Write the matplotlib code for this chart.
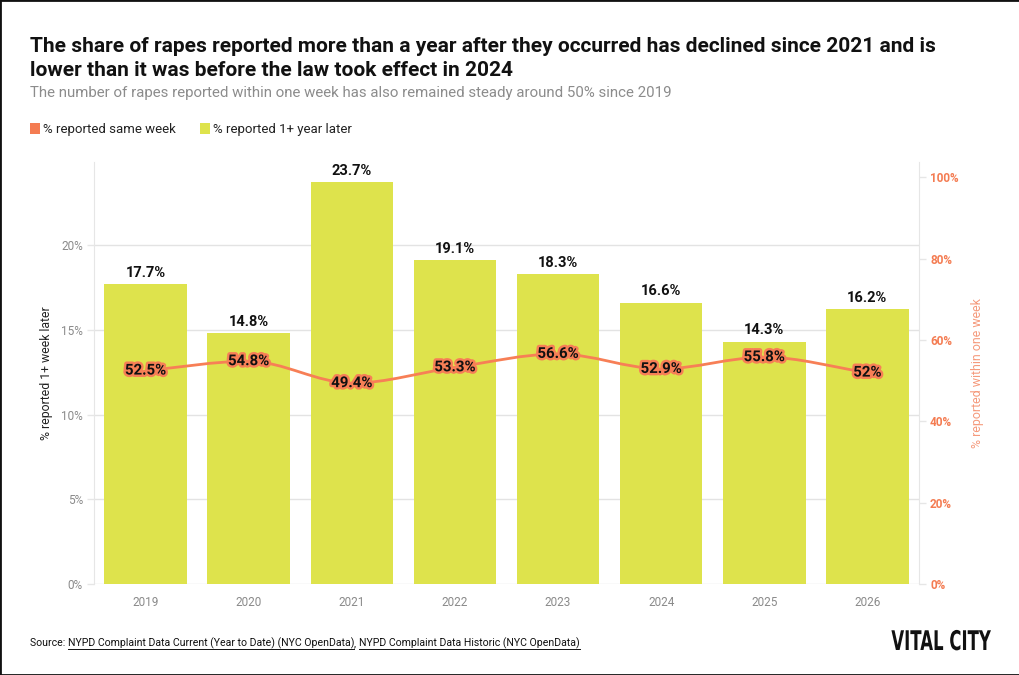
import numpy as np
import matplotlib
matplotlib.use("Agg")
import matplotlib.pyplot as plt
import matplotlib.patheffects as pe
from matplotlib.path import Path
from matplotlib.patches import PathPatch, Rectangle
from matplotlib.transforms import Affine2D
from matplotlib.ticker import FuncFormatter

plt.rcParams['font.family'] = ['Roboto', 'DejaVu Sans']

years = ['2019', '2020', '2021', '2022', '2023', '2024', '2025', '2026']
pct_year_later = [17.7, 14.8, 23.7, 19.1, 18.3, 16.6, 14.3, 16.2]
pct_same_week = [52.5, 54.8, 49.4, 53.3, 56.6, 52.9, 55.8, 52.0]
same_week_labels = ['52.5%', '54.8%', '49.4%', '53.3%', '56.6%', '52.9%', '55.8%', '52%']

bar_col = '#dee34c'
line_col = '#f77f56'
orange_txt = '#f47c52'
grey = '#8a8a8a'

W, H = 1020, 675
fig = plt.figure(figsize=(W / 100, H / 100), dpi=100)

def fx(x):
    return x / W

def fy(y):
    return 1 - y / H


class Squeeze(pe.AbstractPathEffect):
    # narrows text horizontally around a fixed pixel x (for the logo)
    def __init__(self, sx, x0):
        super().__init__()
        self.sx = sx
        self.x0 = x0

    def draw_path(self, renderer, gc, tpath, affine, rgbFace=None):
        t = affine + Affine2D().translate(-self.x0, 0).scale(self.sx, 1).translate(self.x0, 0)
        renderer.draw_path(gc, tpath, t, rgbFace)


ax = fig.add_axes([fx(94), fy(584), fx(919) - fx(94), fy(162) - fy(584)])
ax2 = ax.twinx()

x = np.arange(len(years))
ax.bar(x, pct_year_later, width=0.8, color=bar_col, zorder=2)
ax.set_xlim(-0.5, len(years) - 0.5)
ax.set_ylim(0, 24.9)
ax.set_yticks([0, 5, 10, 15, 20])
ax.yaxis.set_major_formatter(FuncFormatter(lambda v, p: f'{v:.0f}%'))
ax.set_xticks(x)
ax.set_xticklabels(years)
ax.grid(axis='y', color='#e3e3e3', linewidth=1, zorder=0)
ax.set_axisbelow(True)
for s in ['top', 'right', 'bottom']:
    ax.spines[s].set_visible(False)
ax.spines['left'].set_color('#e6e6e6')
ax.tick_params(axis='y', colors=grey, labelsize=8.5, length=5, width=1, pad=3)
ax.tick_params(axis='y', color='#e6e6e6')
ax.tick_params(axis='x', colors=grey, labelsize=8.5, length=0, pad=9)
ax.set_ylabel('% reported 1+ week later', fontsize=8.8, color='#222222', labelpad=6)

for xi, v in zip(x, pct_year_later):
    ax.annotate(f'{v}%', (xi, v), xytext=(0, 3), textcoords='offset points',
                ha='center', va='bottom', fontsize=10.5, fontweight='bold', color='#111111')

# right axis
ax2.set_ylim(0, 103.8)
ax2.set_yticks([0, 20, 40, 60, 80, 100])
ax2.yaxis.set_major_formatter(FuncFormatter(lambda v, p: f'{v:.0f}%'))
for s in ['top', 'left', 'bottom']:
    ax2.spines[s].set_visible(False)
ax2.spines['right'].set_color('#e6e6e6')
ax2.tick_params(axis='y', colors=orange_txt, labelsize=8.5, length=5, width=1, pad=3)
ax2.tick_params(axis='y', color='#e6e6e6')
for t in ax2.get_yticklabels():
    t.set_fontweight('bold')
ax2.set_ylabel('% reported within one week', fontsize=8.9, color='#f59a7c', labelpad=9)

# smooth monotone curve through the points
xs = x.astype(float)
ys = np.array(pct_same_week)
n = len(xs)
d = np.diff(ys) / np.diff(xs)
m = np.zeros(n)
m[0], m[-1] = d[0], d[-1]
for i in range(1, n - 1):
    if d[i - 1] * d[i] <= 0:
        m[i] = 0
    else:
        m[i] = 2 / (1 / d[i - 1] + 1 / d[i])
verts = [(xs[0], ys[0])]
codes = [Path.MOVETO]
for i in range(n - 1):
    h = xs[i + 1] - xs[i]
    verts += [(xs[i] + h / 3, ys[i] + m[i] * h / 3),
              (xs[i + 1] - h / 3, ys[i + 1] - m[i + 1] * h / 3),
              (xs[i + 1], ys[i + 1])]
    codes += [Path.CURVE4] * 3
ax2.add_patch(PathPatch(Path(verts, codes), facecolor='none', edgecolor=line_col,
                        linewidth=2, zorder=3))

for xi, v, lab in zip(xs, ys, same_week_labels):
    ax2.text(xi, v, lab, ha='center', va='center', fontsize=10.8, fontweight='bold',
             color='#111111', zorder=4,
             path_effects=[pe.withStroke(linewidth=3.5, foreground=line_col)])

# titles
fig.text(fx(30), fy(52), 'The share of rapes reported more than a year after they occurred has declined since 2021 and is',
         fontsize=15, fontweight='bold', color='#111111', va='baseline')
fig.text(fx(30), fy(76), 'lower than it was before the law took effect in 2024',
         fontsize=15, fontweight='bold', color='#111111', va='baseline')
fig.text(fx(30), fy(97), 'The number of rapes reported within one week has also remained steady around 50% since 2019',
         fontsize=10.8, color='#8c8c8c', va='baseline')

# legend
fig.patches.append(Rectangle((fx(30), fy(134)), fx(10), fy(123) - fy(134), transform=fig.transFigure,
                             facecolor=orange_txt, edgecolor='none'))
fig.text(fx(43), fy(129), '% reported same week', fontsize=9.5, color='#222222', va='center')
fig.patches.append(Rectangle((fx(200), fy(134)), fx(10), fy(123) - fy(134), transform=fig.transFigure,
                             facecolor=bar_col, edgecolor='none'))
fig.text(fx(213), fy(129), '% reported 1+ year later', fontsize=9.5, color='#222222', va='center')

# source line with underlined links
src_parts = [('Source: ', False), ('NYPD Complaint Data Current (Year to Date) (NYC OpenData)', True),
             (', ', False), ('NYPD Complaint Data Historic (NYC OpenData)', True)]
fig.canvas.draw()
r = fig.canvas.get_renderer()
cx = 30
for txt, ul in src_parts:
    t = fig.text(fx(cx), fy(646), txt, fontsize=7.6, color='#111111', va='baseline')
    bb = t.get_window_extent(renderer=r)
    if ul:
        fig.add_artist(plt.Line2D([fx(cx), fx(cx + bb.width)], [fy(648.5), fy(648.5)],
                                  transform=fig.transFigure, color='#111111', linewidth=0.7))
    cx += bb.width

fig.text(fx(991), fy(650), 'VITAL CITY', fontsize=19.5, fontweight='bold', color='#111111',
         ha='right', va='baseline', family='DejaVu Sans',
         path_effects=[Squeeze(0.61, 991)])

fig.patches.append(Rectangle((0, 0), 1, 1, transform=fig.transFigure, facecolor='none',
                             edgecolor='#111111', linewidth=2))

fig.savefig('out.png', dpi=100)
